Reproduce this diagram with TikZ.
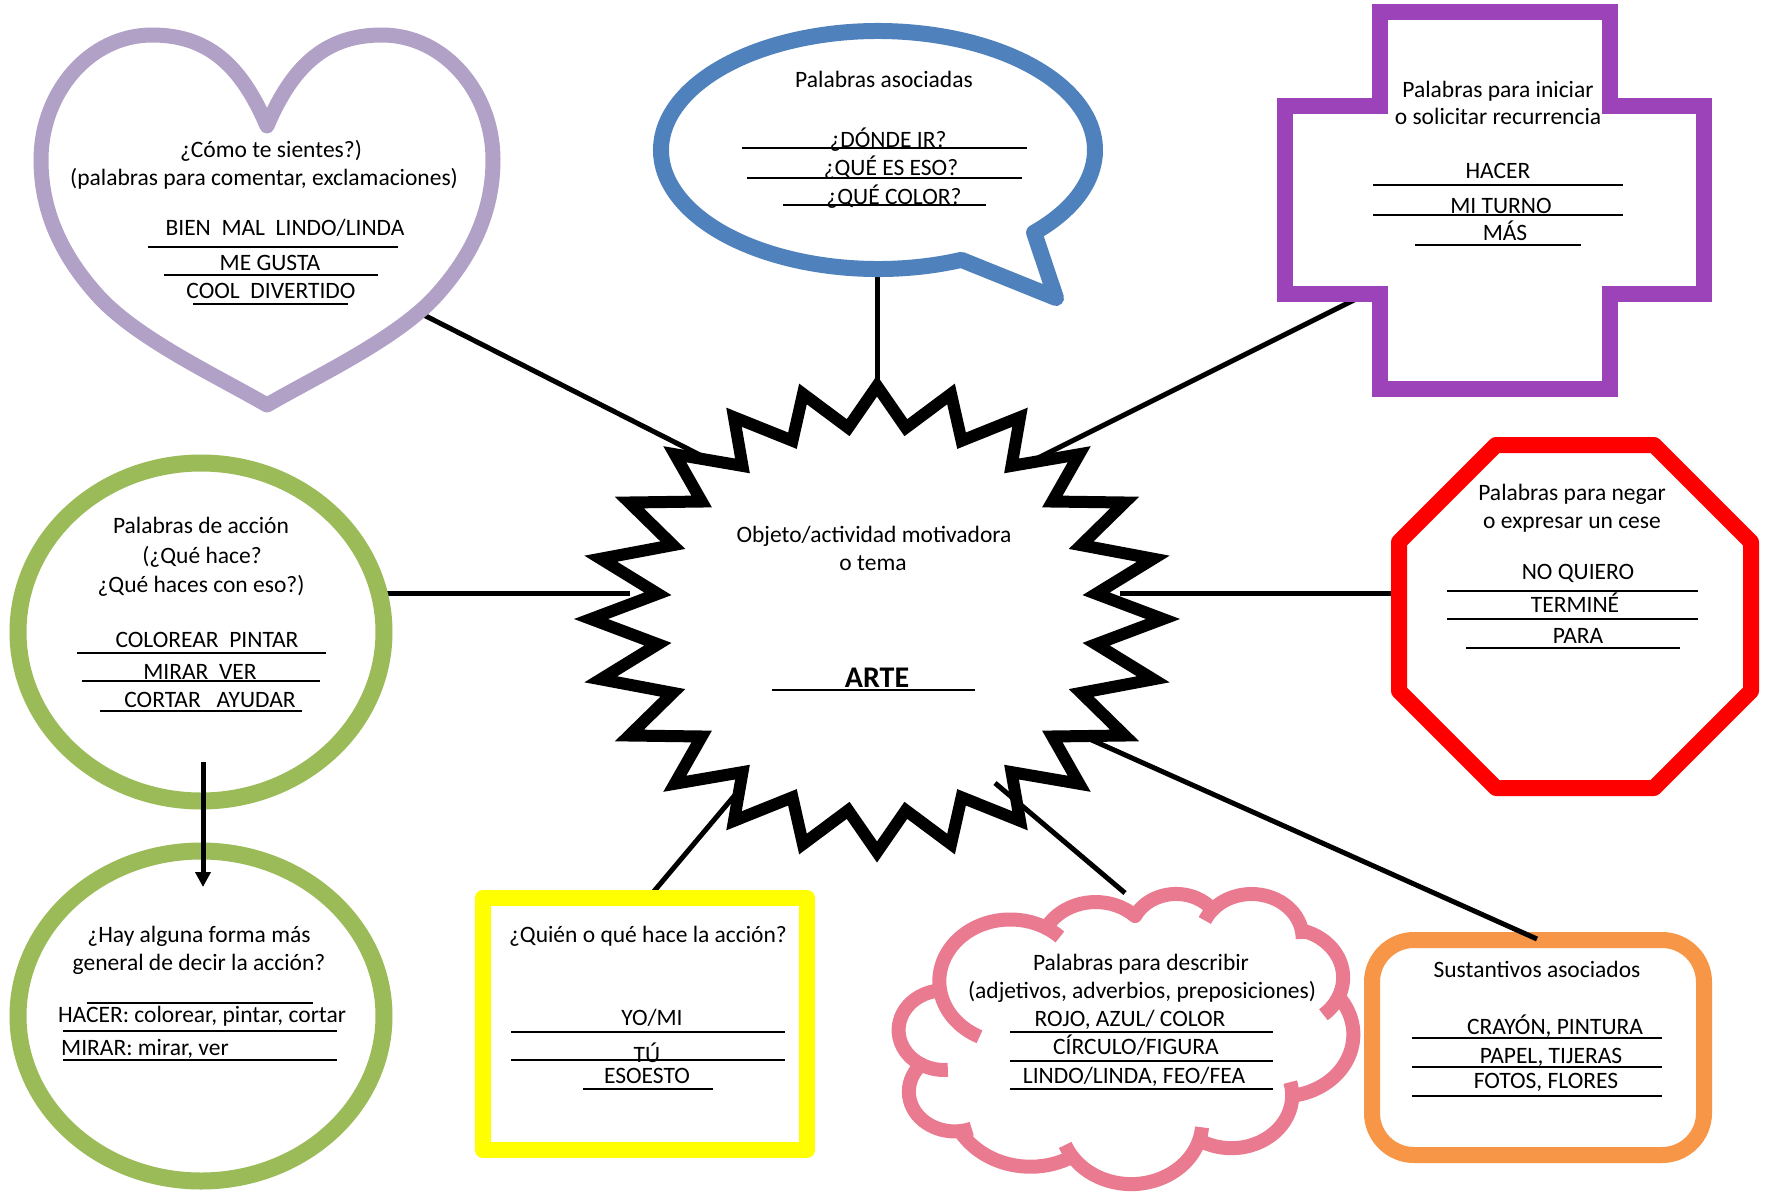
\documentclass[tikz,border=0pt]{standalone}
\usepackage{fontspec}
\setmainfont{Carlito}
\usetikzlibrary{calc,arrows.meta}
\definecolor{heartc}{RGB}{178,161,199}
\definecolor{bubblec}{RGB}{79,129,189}
\definecolor{crossc}{RGB}{157,67,185}
\definecolor{greenc}{RGB}{155,187,89}
\definecolor{stopc}{RGB}{255,0,0}
\definecolor{yellc}{RGB}{255,255,0}
\definecolor{cloudc}{RGB}{234,122,143}
\definecolor{orangec}{RGB}{247,150,70}
\newcommand\fs{\fontsize{23.5}{28}\selectfont}
\def\csx{0.010509}\def\csy{0.006713}
\newcommand\carc[4]{\pgfextra{%
  \pgfmathsetmacro\cldA{atan2((#1)*sin(#3),(#2)*cos(#3))}\global\let\cldA\cldA
  \pgfmathsetmacro\cldB{atan2((#1)*sin((#3)+(#4)),(#2)*cos((#3)+(#4)))}\global\let\cldB\cldB
  \pgfmathsetmacro\cldD{ifthenelse((#4)>0, mod(\cldB-\cldA+720,360), -mod(\cldA-\cldB+720,360))}\global\let\cldD\cldD
  \pgfmathsetmacro\cldX{(#1)*\csx}\global\let\cldX\cldX
  \pgfmathsetmacro\cldY{(#2)*\csy}\global\let\cldY\cldY
 } arc[start angle=\cldA, delta angle=\cldD, x radius=\cldX, y radius=\cldY]}
\begin{document}
\begin{tikzpicture}[x=1pt,y=-1pt,
  tx/.style={anchor=base, inner sep=0pt, font=\fs},
  rl/.style={line width=1.4pt},
  con/.style={line width=5pt},
  shp/.style={fill=white, line width=16pt,
    preaction={draw=black!13, fill=black!13, transform canvas={xshift=3pt, yshift=-4pt}}},
  heartst/.style={shp, draw=heartc, line width=15pt, line join=round},
  bubblest/.style={shp, draw=bubblec, line join=round},
  crossst/.style={shp, draw=crossc, line join=miter},
  greenst/.style={shp, draw=greenc, line width=17pt},
  stopst/.style={shp, draw=stopc, line join=round},
  yellst/.style={shp, draw=yellc, line join=round},
  cloudst/.style={shp, draw=cloudc, line width=14pt, line join=round},
  cloudstub/.style={draw=cloudc, line width=14pt, line cap=butt},
  orangest/.style={shp, draw=orangec, rounded corners=42pt},
  starst/.style={fill=white, draw=black, line width=12pt, line join=miter,
    preaction={draw=black!35, fill=black!35, transform canvas={xshift=3pt, yshift=-4pt}}}
]
\fill[white] (0,0) rectangle (1770,1200);
\useasboundingbox (0,0) rectangle (1770,1200);

% connector end points
\coordinate (hA) at (410,308); \coordinate (hB) at (700,455);
\coordinate (bA) at (877,262); \coordinate (bB) at (877,400);
\coordinate (cA) at (1380,287); \coordinate (cB) at (1030,462);
\coordinate (gA) at (365,593); \coordinate (gB) at (630,593);
\coordinate (oA) at (1405,593); \coordinate (oB) at (1120,593);
\coordinate (yA) at (650,896); \coordinate (yB) at (735,795);
\coordinate (kA) at (1125,893); \coordinate (kB) at (995,783);
\coordinate (rA) at (1537,939); \coordinate (rB) at (1085,737);
\coordinate (aA) at (203,762); \coordinate (aB) at (203,887);

\draw[con] (hA) -- (hB);
\draw[con] (bA) -- (bB);
\draw[con] (cA) -- (cB);
\draw[con] (gA) -- (gB);
\draw[con] (oA) -- (oB);
\draw[con] (yA) -- (yB);

% heart
\draw[heartst] (267,126) .. controls (240,62) and (205,35) .. (152,35)
  .. controls (90,35) and (41,92) .. (41,160)
  .. controls (41,215) and (65,260) .. (100,298)
  .. controls (140,340) and (215,375) .. (267,405)
  .. controls (319,375) and (394,340) .. (434,298)
  .. controls (469,260) and (493,215) .. (493,160)
  .. controls (493,92) and (444,35) .. (382,35)
  .. controls (329,35) and (294,62) .. (267,126) -- cycle;

% speech bubble
\draw[bubblest] ($(878,150)+(67.4:217 and 119)$)
  arc[start angle=67.4, end angle=404, x radius=217, y radius=119]
  -- (1056,298) -- cycle;

% cross
\draw[crossst] (1380,12) -- (1610,12) -- (1610,106) -- (1704,106) -- (1704,294)
  -- (1610,294) -- (1610,389) -- (1380,389) -- (1380,294) -- (1285,294)
  -- (1285,106) -- (1380,106) -- cycle;

% green ellipses
\draw[greenst] (201,632) ellipse [x radius=183, y radius=169];
\draw[greenst] (201,1016) ellipse [x radius=183, y radius=165];
\draw[con, -{Triangle[length=15pt,width=15pt]}] (aA) -- (aB);

% stop octagon
\draw[stopst] (1496,445) -- (1654,445) -- (1751,542) -- (1751,691) -- (1654,788)
  -- (1496,788) -- (1399,691) -- (1399,542) -- cycle;

% yellow box
\draw[yellst] (483,898) rectangle (807,1150);

% orange box
\draw[orangest] (1372,940) rectangle (1704,1155);
\draw[con] (rA) -- (rB);

% cloud
\draw[cloudst] (939.99,989.47) coordinate (J0)
  \carc{6753}{9190}{-190.4875}{123.7805} coordinate (J1)
  \carc{5333}{7267}{-144.1024}{89.9452} coordinate (J2)
  \carc{4365}{5945}{-145.8079}{99.7230} coordinate (J3)
  \carc{4857}{6595}{-130.9861}{117.2417} coordinate (J4)
  \carc{5333}{7273}{-78.7089}{109.0269} coordinate (J5)
  \carc{6775}{9220}{-46.2673}{130.2690} coordinate (J6)
  \carc{5785}{7867}{0.6250}{114.0333} coordinate (J7)
  \carc{6752}{9215}{22.4516}{115.1726} coordinate (J8)
  \carc{7720}{10543}{66.2426}{75.7110} coordinate (J9)
  \carc{4360}{5918}{-274.9421}{146.7356} coordinate (J10)
  \carc{4345}{5945}{-246.8285}{152.5189}
  -- cycle;
\draw[cloudstub] (J0) \carc{6753}{9190}{-190.4875}{-60};
\draw[cloudstub] (J1) \carc{6753}{9190}{-66.707}{12.3};
\draw[cloudstub] (J3) \carc{4857}{6595}{-130.9861}{-18.2};
\draw[cloudstub] (J4) \carc{4857}{6595}{-13.7444}{14.85};
\draw[cloudstub] (J5) \carc{5333}{7273}{30.318}{27.75};
\draw[cloudstub] (J6) \carc{5785}{7867}{0.625}{-20};
\draw[cloudstub] (J7) \carc{6752}{9215}{22.4516}{-16};
\draw[cloudstub] (J8) \carc{6752}{9215}{137.6242}{14.08};
\draw[cloudstub] (J9) \carc{4360}{5918}{-274.9421}{-11.45};
\draw[cloudstub] (J10) \carc{4345}{5945}{-246.8285}{-26.43};

% star
\draw[starst] ($(877,619)+(90:286 and 233)$)
  \foreach \k in {0,...,23} {
    -- ($(877,619)+({97.5+15*\k}:221 and 193)$)
    -- ($(877,619)+({105+15*\k}:286 and 233)$) } -- cycle;

\draw[con] (kA) -- (kB);

% ---- texts ----
% heart
\node[tx] (h1) at (271,157) {¿Cómo te sientes?)};
\node[tx] (h2) at (264,185) {(palabras para comentar, exclamaciones)};
\node[tx] (h3) at (285,235) {BIEN\ \ MAL\ \ LINDO/LINDA};
\draw[rl] (148,247) -- (398,247);
\node[tx] (h4) at (270,270) {ME GUSTA};
\draw[rl] (164,275) -- (378,275);
\node[tx] (h5) at (271,298) {COOL\ \ DIVERTIDO};
\draw[rl] (193,304) -- (348,304);

% bubble
\node[tx] (b1) at (884,87) {Palabras asociadas};
\node[tx] (b2) at (888,147) {¿DÓNDE IR?};
\draw[rl] (742,148) -- (1027,148);
\node[tx] (b3) at (891,175) {¿QUÉ ES ESO?};
\draw[rl] (747,178) -- (1022,178);
\node[tx] (b4) at (894,204) {¿QUÉ COLOR?};
\draw[rl] (783,205) -- (986,205);

% cross
\node[tx] (c1) at (1498,97) {Palabras para iniciar};
\node[tx] (c2) at (1498,124) {o solicitar recurrencia};
\node[tx] (c3) at (1498,178) {HACER};
\draw[rl] (1373,185) -- (1623,185);
\node[tx] (c4) at (1501,213) {MI TURNO};
\draw[rl] (1373,215) -- (1623,215);
\node[tx] (c5) at (1505,240) {MÁS};
\draw[rl] (1415,245) -- (1581,245);

% green 1
\node[tx] (ga) at (201,533) {Palabras de acción};
\node[tx] (gb) at (202,563) {(¿Qué hace?};
\node[tx] (gc) at (201,592) {¿Qué haces con eso?)};
\node[tx] (gd) at (207,647) {COLOREAR\ \ PINTAR};
\draw[rl] (77,653) -- (326,653);
\node[tx] (ge) at (200,679) {MIRAR\ \ VER};
\draw[rl] (82,681) -- (320,681);
\node[tx] (gf) at (210,707) {CORTAR\ \ \ AYUDAR};
\draw[rl] (100,711) -- (302,711);

% star
\node[tx] (s1) at (874,542) {Objeto/actividad motivadora};
\node[tx] (s2) at (873,570) {o tema};
\node[tx, font=\fontsize{30}{34}\selectfont\bfseries] (s3) at (877,687) {ARTE};
\draw[line width=2.4pt] (772,690) -- (975,690);

% octagon
\node[tx] (o1) at (1572,500) {Palabras para negar};
\node[tx] (o2) at (1572,528) {o expresar un cese};
\node[tx] (o3) at (1578,579) {NO QUIERO};
\draw[rl] (1447,591) -- (1698,591);
\node[tx] (o4) at (1575,612) {TERMINÉ};
\draw[rl] (1447,619) -- (1698,619);
\node[tx] (o5) at (1578,643) {PARA};
\draw[rl] (1466,648) -- (1680,648);

% green 2
\node[tx] (ka) at (199,942) {¿Hay alguna forma más};
\node[tx] (kb) at (199,970) {general de decir la acción?};
\draw[rl] (87,1003) -- (313,1003);
\node[tx] (kc) at (202,1022) {HACER: colorear, pintar, cortar};
\draw[rl] (63,1031) -- (337,1031);
\node[tx, anchor=base west] (kd) at (61,1055) {MIRAR: mirar, ver};
\draw[rl] (63,1060) -- (337,1060);

% yellow
\node[tx] (y1) at (648,942) {¿Quién o qué hace la acción?};
\node[tx] (y2) at (652,1025) {YO/MI};
\draw[rl] (511,1032) -- (785,1032);
\node[tx] (y3) at (647,1062) {TÚ};
\draw[rl] (511,1060) -- (785,1060);
\node[tx] (y4) at (647,1083) {ESOESTO};
\draw[rl] (583,1089) -- (713,1089);

% cloud
\node[tx] (l1) at (1141,970) {Palabras para describir};
\node[tx] (l2) at (1142,998) {(adjetivos, adverbios, preposiciones)};
\node[tx] (l3) at (1130,1026) {ROJO, AZUL/ COLOR};
\draw[rl] (1010,1032) -- (1273,1032);
\node[tx] (l4) at (1136,1054) {CÍRCULO/FIGURA};
\draw[rl] (1010,1061) -- (1273,1061);
\node[tx] (l5) at (1134,1083) {LINDO/LINDA, FEO/FEA};
\draw[rl] (1010,1089) -- (1273,1089);

% orange
\node[tx] (r1) at (1537,977) {Sustantivos asociados};
\node[tx] (r2) at (1555,1034) {CRAYÓN, PINTURA};
\draw[rl] (1412,1038) -- (1662,1038);
\node[tx] (r3) at (1551,1063) {PAPEL, TIJERAS};
\draw[rl] (1412,1067) -- (1662,1067);
\node[tx] (r4) at (1546,1088) {FOTOS, FLORES};
\draw[rl] (1412,1096) -- (1662,1096);
\end{tikzpicture}
\end{document}
